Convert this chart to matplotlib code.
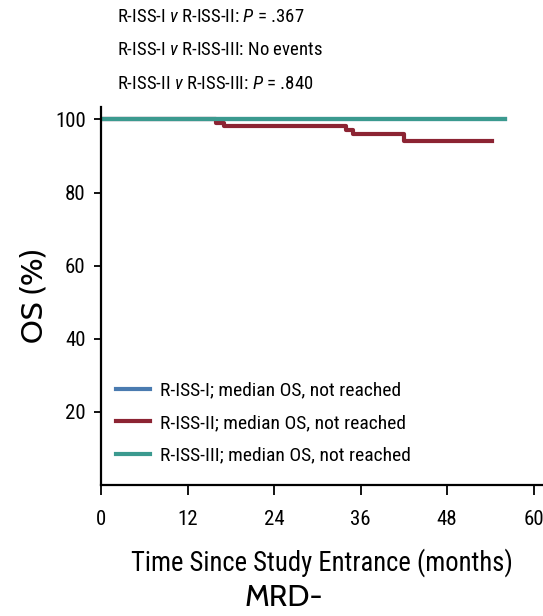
import matplotlib.pyplot as plt

# condensed face for most text, Gill-like face for y label and panel tag
plt.rcParams['font.family'] = ['Roboto Condensed', 'DejaVu Sans']
plt.rcParams['mathtext.fontset'] = 'custom'
plt.rcParams['mathtext.it'] = 'Roboto Condensed:italic'
plt.rcParams['mathtext.rm'] = 'Roboto Condensed'

# Kaplan-Meier data (months, OS %)
iss1_t = [0, 56.0]
iss1_s = [100, 100]
iss2_t = [0, 16.0, 17.0, 34.0, 35.0, 42.0, 54.2]
iss2_s = [100, 99.1, 98.2, 97.1, 96.1, 94.0, 94.0]
iss3_t = [0, 56.0]
iss3_s = [100, 100]

labels = ['R-ISS-I; median OS, not reached',
          'R-ISS-II; median OS, not reached',
          'R-ISS-III; median OS, not reached']
colors = ['#4a7bb0', '#8c2433', '#3b9a8f']
xticks = [0, 12, 24, 36, 48, 60]
yticks = [20, 40, 60, 80, 100]

fig = plt.figure(figsize=(5.43, 6.16), dpi=100)
ax = fig.add_axes([0.186, 0.2127, 0.814, 0.6136])

ax.step(iss1_t, iss1_s, where='post', color=colors[0], lw=3, label=labels[0])
ax.step(iss2_t, iss2_s, where='post', color=colors[1], lw=3, label=labels[1])
ax.step(iss3_t, iss3_s, where='post', color=colors[2], lw=3, label=labels[2])

ax.set_xlim(0, 61.3)
ax.set_ylim(0, 103.4)
ax.set_xticks(xticks)
ax.set_yticks(yticks)
ax.spines['top'].set_visible(False)
ax.spines['right'].set_visible(False)
ax.spines['left'].set_linewidth(1.6)
ax.spines['bottom'].set_linewidth(1.6)
ax.tick_params(axis='x', length=7, width=1.3, pad=11, labelsize=15)
ax.tick_params(axis='y', length=5, width=1.3, pad=6, labelsize=15)

ax.legend(loc='center left', bbox_to_anchor=(116/543, 1 - 423/616),
          bbox_transform=fig.transFigure, frameon=False,
          fontsize=14, handlelength=1.75, handletextpad=0.5, labelspacing=0.75,
          borderaxespad=0, borderpad=0)

# p-value annotations
fig.text(117/543, 1 - 17/616, r'R-ISS-I $\it{v}$ R-ISS-II: $\it{P}$ = .367', fontsize=13.5, va='center')
fig.text(117/543, 1 - 50/616, r'R-ISS-I $\it{v}$ R-ISS-III: No events', fontsize=13.5, va='center')
fig.text(117/543, 1 - 84/616, r'R-ISS-II $\it{v}$ R-ISS-III: $\it{P}$ = .840', fontsize=13.5, va='center')

fig.text(34/543, 1 - 295/616, 'OS (%)', rotation=90, fontsize=22, ha='center', va='center',
         family=['Cabin', 'DejaVu Sans'], weight='medium')
fig.text(322/543, 1 - 563/616, 'Time Since Study Entrance (months)', fontsize=19.2,
         ha='center', va='center')
fig.text(284/543, 1 - 598/616, 'MRD-', fontsize=22, ha='center', va='center',
         family=['Cabin', 'DejaVu Sans'])

fig.savefig('out.png', dpi=100)
